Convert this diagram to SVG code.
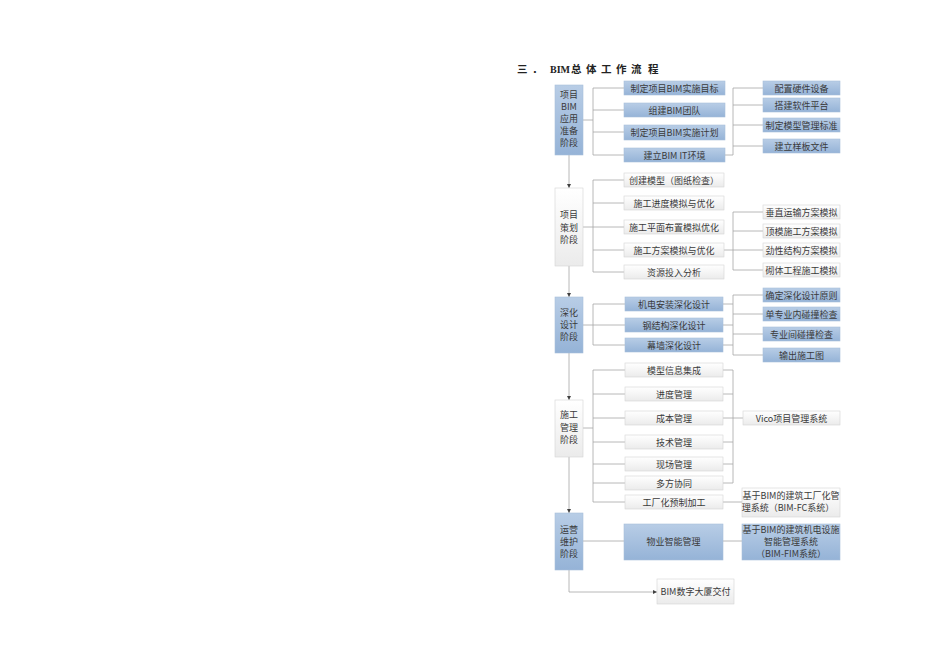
<svg xmlns="http://www.w3.org/2000/svg" width="950" height="672" viewBox="0 0 950 672">
<defs>
<linearGradient id="gb" x1="0" y1="0" x2="0" y2="1">
<stop offset="0" stop-color="#b8cde6"/>
<stop offset="1" stop-color="#95b3d7"/>
</linearGradient>
<linearGradient id="gg" x1="0" y1="0" x2="0" y2="1">
<stop offset="0" stop-color="#ffffff"/>
<stop offset="1" stop-color="#ebebeb"/>
</linearGradient>
<marker id="ah" viewBox="0 0 6 6" refX="6" refY="3" markerWidth="4" markerHeight="4" orient="auto" markerUnits="userSpaceOnUse">
<path d="M0,0 L6,3 L0,6 z" fill="#404040"/>
</marker>
</defs>
<style>
.b{fill:url(#gb);stroke:#a9bfd9;stroke-width:0.6}
.g{fill:url(#gg);stroke:#d4d4d4;stroke-width:0.6}
.t{font-family:"Noto Sans CJK SC","Liberation Sans",sans-serif;font-size:9px;fill:#3a3a3a;text-anchor:middle}
.c{fill:none;stroke:#a6a6a6;stroke-width:0.8}
.a{fill:none;stroke:#a6a6a6;stroke-width:0.8;marker-end:url(#ah)}
.h{font-family:"Noto Sans CJK SC","Liberation Sans",sans-serif;font-size:10.5px;font-weight:bold;fill:#222}
.hs{font-family:"Liberation Serif","Noto Sans CJK SC",serif;font-size:10px;font-weight:bold;fill:#222}
</style>
<rect width="950" height="672" fill="#ffffff"/>
<g id="title">
<text class="h" x="517" y="73">三</text>
<text class="h" x="532" y="73">．</text>
<text class="hs" x="550" y="73">BIM</text>
<text class="h" x="571" y="73">总</text>
<text class="h" x="586" y="73">体</text>
<text class="h" x="601" y="73">工</text>
<text class="h" x="616" y="73">作</text>
<text class="h" x="631" y="73">流</text>
<text class="h" x="648" y="73">程</text>
</g>
<g id="connectors">
<path class="a" d="M569,155 V188"/>
<path class="a" d="M569,266 V297"/>
<path class="a" d="M569,353 V400"/>
<path class="a" d="M569,457 V513"/>
<path class="a" d="M569,570 V592 H657"/>
<path class="c" d="M583,120 H593 M593,88 V155 M593,88 H624 M593,110 H624 M593,132 H624 M593,155 H624"/>
<path class="c" d="M725,155 H733 M733,88 V155 M733,88 H763 M733,105 H763 M733,125 H763 M733,146 H763"/>
<path class="c" d="M583,227 H593 M593,180 V272 M593,180 H624 M593,203 H624 M593,227 H624 M593,250 H624 M593,272 H624"/>
<path class="c" d="M724,250 H733 M733,212 V270 M733,212 H763 M733,231 H763 M733,250 H763 M733,270 H763"/>
<path class="c" d="M583,325 H593 M593,304 V345 M593,304 H625 M593,325 H625 M593,345 H625"/>
<path class="c" d="M723,304 H733 M723,325 H733 M723,345 H733 M733,295 V355 M733,295 H763 M733,314 H763 M733,334 H763 M733,355 H763"/>
<path class="c" d="M583,428 H593 M593,370 V502 M593,370 H625 M593,394 H625 M593,418 H625 M593,442 H625 M593,464 H625 M593,483 H625 M593,502 H625"/>
<path class="c" d="M723,370 H733 M723,394 H733 M723,418 H733 M723,442 H733 M723,464 H733 M723,483 H733 M733,370 V483 M733,418 H743"/>
<path class="c" d="M723,502 H742"/>
<path class="c" d="M583,541 H624 M723,541 H742"/>
</g>
<g id="phase1"><rect class="b" x="555" y="85" width="28" height="70"/>
<text class="t" x="569" y="98">项目</text><text class="t" x="569" y="110">BIM</text><text class="t" x="569" y="122">应用</text><text class="t" x="569" y="134">准备</text><text class="t" x="569" y="146">阶段</text></g>
<g id="p1a"><rect class="b" x="624" y="81" width="101" height="14"/><text class="t" x="674.5" y="91.5">制定项目BIM实施目标</text></g>
<g id="p1b"><rect class="b" x="624" y="103" width="101" height="14"/><text class="t" x="674.5" y="113.5">组建BIM团队</text></g>
<g id="p1c"><rect class="b" x="624" y="125" width="101" height="15"/><text class="t" x="674.5" y="136">制定项目BIM实施计划</text></g>
<g id="p1d"><rect class="b" x="624" y="148" width="101" height="14"/><text class="t" x="674.5" y="158.5">建立BIM  IT环境</text></g>
<g id="p1e"><rect class="b" x="763" y="81" width="77" height="14"/><text class="t" x="801.5" y="91.5">配置硬件设备</text></g>
<g id="p1f"><rect class="b" x="763" y="98" width="77" height="14"/><text class="t" x="801.5" y="108.5">搭建软件平台</text></g>
<g id="p1g"><rect class="b" x="763" y="118" width="77" height="14"/><text class="t" x="801.5" y="128.5">制定模型管理标准</text></g>
<g id="p1h"><rect class="b" x="763" y="139" width="77" height="14"/><text class="t" x="801.5" y="149.5">建立样板文件</text></g>

<g id="phase2"><rect class="g" x="555" y="188" width="28" height="78"/>
<text class="t" x="569" y="218">项目</text><text class="t" x="569" y="230.5">策划</text><text class="t" x="569" y="243">阶段</text></g>
<g id="p2a"><rect class="g" x="624" y="173" width="100" height="14"/><text class="t" x="674" y="183.5">创建模型（图纸检查）</text></g>
<g id="p2b"><rect class="g" x="624" y="196" width="100" height="14"/><text class="t" x="674" y="206.5">施工进度模拟与优化</text></g>
<g id="p2c"><rect class="g" x="624" y="220" width="100" height="14"/><text class="t" x="674" y="230.5">施工平面布置模拟优化</text></g>
<g id="p2d"><rect class="g" x="624" y="243" width="100" height="14"/><text class="t" x="674" y="253.5">施工方案模拟与优化</text></g>
<g id="p2e"><rect class="g" x="624" y="265" width="100" height="14"/><text class="t" x="674" y="275.5">资源投入分析</text></g>
<g id="p2f"><rect class="g" x="763" y="205" width="77" height="14"/><text class="t" x="801.5" y="215.5">垂直运输方案模拟</text></g>
<g id="p2g"><rect class="g" x="763" y="224" width="77" height="14"/><text class="t" x="801.5" y="234.5">顶模施工方案模拟</text></g>
<g id="p2h"><rect class="g" x="763" y="243" width="77" height="14"/><text class="t" x="801.5" y="253.5">劲性结构方案模拟</text></g>
<g id="p2i"><rect class="g" x="763" y="263" width="77" height="14"/><text class="t" x="801.5" y="273.5">砌体工程施工模拟</text></g>

<g id="phase3"><rect class="b" x="555" y="297" width="28" height="56"/>
<text class="t" x="569" y="316">深化</text><text class="t" x="569" y="328">设计</text><text class="t" x="569" y="340">阶段</text></g>
<g id="p3a"><rect class="b" x="625" y="297" width="98" height="14"/><text class="t" x="674" y="307.5">机电安装深化设计</text></g>
<g id="p3b"><rect class="b" x="625" y="318" width="98" height="14"/><text class="t" x="674" y="328.5">钢结构深化设计</text></g>
<g id="p3c"><rect class="b" x="625" y="338" width="98" height="14"/><text class="t" x="674" y="348.5">幕墙深化设计</text></g>
<g id="p3d"><rect class="b" x="763" y="288" width="77" height="14"/><text class="t" x="801.5" y="298.5">确定深化设计原则</text></g>
<g id="p3e"><rect class="b" x="763" y="307" width="77" height="14"/><text class="t" x="801.5" y="317.5">单专业内碰撞检查</text></g>
<g id="p3f"><rect class="b" x="763" y="327" width="77" height="14"/><text class="t" x="801.5" y="337.5">专业间碰撞检查</text></g>
<g id="p3g"><rect class="b" x="763" y="348" width="77" height="14"/><text class="t" x="801.5" y="358.5">输出施工图</text></g>

<g id="phase4"><rect class="g" x="555" y="400" width="28" height="57"/>
<text class="t" x="569" y="418">施工</text><text class="t" x="569" y="431">管理</text><text class="t" x="569" y="443">阶段</text></g>
<g id="p4a"><rect class="g" x="625" y="363" width="98" height="14"/><text class="t" x="674" y="373.5">模型信息集成</text></g>
<g id="p4b"><rect class="g" x="625" y="387" width="98" height="14"/><text class="t" x="674" y="397.5">进度管理</text></g>
<g id="p4c"><rect class="g" x="625" y="411" width="98" height="14"/><text class="t" x="674" y="421.5">成本管理</text></g>
<g id="p4d"><rect class="g" x="625" y="435" width="98" height="14"/><text class="t" x="674" y="445.5">技术管理</text></g>
<g id="p4e"><rect class="g" x="625" y="457" width="98" height="14"/><text class="t" x="674" y="467.5">现场管理</text></g>
<g id="p4f"><rect class="g" x="625" y="476" width="98" height="14"/><text class="t" x="674" y="486.5">多方协同</text></g>
<g id="p4g"><rect class="g" x="625" y="495" width="98" height="14"/><text class="t" x="674" y="505.5">工厂化预制加工</text></g>
<g id="p4h"><rect class="g" x="743" y="411" width="97" height="14"/><text class="t" x="791.5" y="421.5">Vico项目管理系统</text></g>
<g id="p4i"><rect class="g" x="742" y="488" width="98" height="29"/><text class="t" x="791" y="498.5">基于BIM的建筑工厂化管</text><text class="t" x="788" y="511">理系统（BIM-FC系统）</text></g>

<g id="phase5"><rect class="b" x="555" y="513" width="28" height="57"/>
<text class="t" x="569" y="533">运营</text><text class="t" x="569" y="545">维护</text><text class="t" x="569" y="557">阶段</text></g>
<g id="p5a"><rect class="b" x="624" y="524" width="99" height="36"/><text class="t" x="673.5" y="545">物业智能管理</text></g>
<g id="p5b"><rect class="b" x="742" y="524" width="98" height="36"/><text class="t" x="791" y="532.5">基于BIM的建筑机电设施</text><text class="t" x="791" y="544.5">智能管理系统</text><text class="t" x="791" y="556.5">（BIM-FIM系统）</text></g>
<g id="p5c"><rect class="g" x="657" y="579" width="77" height="25"/><text class="t" x="695.5" y="595">BIM数字大厦交付</text></g>
</svg>
